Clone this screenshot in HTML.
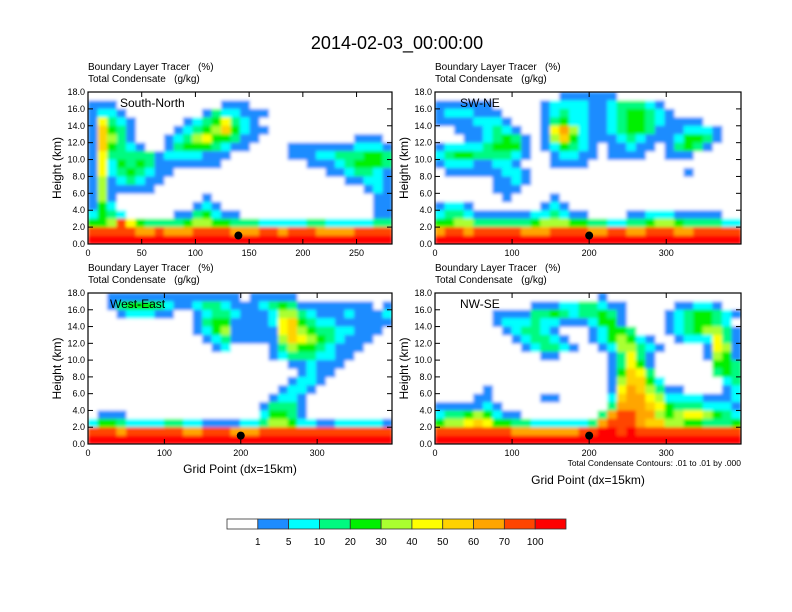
<!DOCTYPE html>
<html><head><meta charset="utf-8"><style>
body{margin:0;background:#fff;}
svg{display:block;font-family:"Liberation Sans",sans-serif;}
</style></head><body>
<svg id="fig" width="792" height="612" viewBox="0 0 792 612">
<defs><filter id="soft" x="0" y="0" width="1" height="1"><feGaussianBlur stdDeviation="1.6"/></filter></defs>
<text x="397" y="49" font-size="18" text-anchor="middle">2014-02-03_00:00:00</text>
</svg>
<script>
const levelColors=["#ffffff","#1e8cff","#00ffff","#00fa80","#00f000","#aaff30","#ffff00","#ffd200","#ffa500","#ff4500","#ff0000"];
const levelLabels=["1","5","10","20","30","40","50","60","70","100"];
const yTicks=[0,2,4,6,8,10,12,14,16,18];
const xTicksP1=[0,50,100,150,200,250];
const xTicksP234=[0,100,200,300];
const p1Rows=[
"00000000000000000000000000000000",
"11100000000000111000000000000000",
"12210000000013221110000000000000",
"16321000001234632100000000000000",
"17431000012345742110000000000000",
"17531000123564431100000000001110",
"17432100134443211000011111112221",
"16333331222211100000011122333443",
"16243431111111000000000111234443",
"16234321100000000000000001123321",
"15123211000000000000000000011221",
"15111110000000000000000000000121",
"15100000000010000000000000000011",
"14200000000121000000000000000011",
"24320000011342110000000000000011",
"44596433334554433322222332222233",
"99999889888999988899899988889999",
"aaaaaaaaaaaaaaaaaaaaaaaaaaaaaaaa"];
const p2Rows=[
"00000000000001111110000000000000",
"11111100000122221123332100000000",
"12221110000123221123443210000000",
"11112221000134221123443211110000",
"00111232100168521123443111222100",
"00011234310157421112321112443100",
"12222344410124321011211013431000",
"23443333210012211011110011100000",
"12221122100011110000000000000000",
"01111112210000000000000000100000",
"00000011210000000000000000000000",
"00000011100000000000000000000000",
"00000001000010000000000000000000",
"12210000000121000000000000000000",
"23321111112232110000112221111100",
"44553333334555443322334554333322",
"89989999988899998899889998899999",
"aaaaaaaaaaaaaaaaaaaaaaaaaaaaaaaa"];
const p3Rows=[
"00111111111111110111110000000000",
"00134443211233211123431111111101",
"00012221100123321112553211121112",
"00000000000134411112674322111111",
"00000000000124511111675433221110",
"00000000000012311111576543211100",
"00000000000001200001354432111000",
"00000000000000000001233322110000",
"00000000000000000000011211100000",
"00000000000000000000001211000000",
"00000000000000000000012210000000",
"00000000000000000000122100000000",
"00000000000000000001221000000000",
"00000000000000000013331000000000",
"01110000000000000024431000000000",
"24432222332211112235542211222221",
"99989999998899988899999999999999",
"aaaaaaaaaaaaaaaaaaaaaaaaaaaaaaaa"];
const p4Rows=[
"00000000000000000100000000000000",
"00000000001112233211000001122100",
"00000011113343233431000012344321",
"00000012223221112441000012344320",
"00000001233210001244300012345531",
"00000000123321001245421001222631",
"00000000012332100125532100001651",
"00000000000110000013631000001541",
"00000000000000000013641000000443",
"00000000000000000014763000000343",
"00000000000000000015774200000023",
"00000100000000000016875311000012",
"00001100000110000027886522221112",
"11111210000000000038887643332221",
"23345421100000000389988545665432",
"45567644332222223899987755443334",
"99999999888888899aa9a99999999999",
"aaaaaaaaaaaaaaaaaaaaaaaaaaaaaaaa"];
const panelNames=["South-North","SW-NE","West-East","NW-SE"];
const dotX=[140,200,200,200];
const dotZ=[1,1,1,1];

const NS="http://www.w3.org/2000/svg";
const svg=document.getElementById('fig');
function mk(tag,attrs,parent){const e=document.createElementNS(NS,tag);for(const k in attrs)e.setAttribute(k,attrs[k]);(parent||svg).appendChild(e);return e;}

const panels=[
 {x0:88,y0:92,w:304,h:152,xmax:283,rows:p1Rows,xt:xTicksP1},
 {x0:435,y0:92,w:306,h:152,xmax:397,rows:p2Rows,xt:xTicksP234},
 {x0:88,y0:293,w:304,h:151,xmax:398,rows:p3Rows,xt:xTicksP234},
 {x0:435,y0:293,w:306,h:151,xmax:397,rows:p4Rows,xt:xTicksP234}
];
panels.forEach((p,i)=>{
 const g=mk('g',{});
 
 
 const xs=v=>p.x0+v/p.xmax*p.w;
 const ys=v=>p.y0+p.h-v/18*p.h;
 const nr=p.rows.length,nc=p.rows[0].length;
 const cw=p.w/nc,ch=p.h/nr;
 const cells=mk('g',{filter:'url(#soft)'},g);
 
 
 mk('rect',{x:p.x0,y:p.y0,width:p.w,height:p.h,fill:'#fff'},cells);
 for(let r=0;r<nr;r++)for(let c=0;c<nc;c++){
  const lv=parseInt(p.rows[r][c],16)||0;
  if(lv===0)continue;
  const cell=mk('rect',{x:(p.x0+c*cw).toFixed(2),y:(p.y0+r*ch).toFixed(2),width:(cw+0.5).toFixed(2),height:(ch+0.5).toFixed(2),fill:levelColors[lv]},cells);
  
  
 }
 const dot=mk('circle',{cx:xs(dotX[i]),cy:ys(dotZ[i]),r:4,fill:'#000'},g);
 
 
 const fr=mk('rect',{x:p.x0,y:p.y0,width:p.w,height:p.h,fill:'none',stroke:'#000','stroke-width':1.2},g);
 
 
 yTicks.forEach(v=>{
  const y=ys(v);
  mk('line',{x1:p.x0,x2:p.x0+5,y1:y,y2:y,stroke:'#000'},g);
  mk('line',{x1:p.x0+p.w,x2:p.x0+p.w-5,y1:y,y2:y,stroke:'#000'},g);
  const t=mk('text',{x:p.x0-3,y:y+3,'font-size':9,'text-anchor':'end'},g);
  t.textContent=v.toFixed(1);
  
  
 });
 p.xt.forEach(v=>{
  const x=xs(v);
  mk('line',{x1:x,x2:x,y1:p.y0+p.h,y2:p.y0+p.h-5,stroke:'#000'},g);
  mk('line',{x1:x,x2:x,y1:p.y0,y2:p.y0+5,stroke:'#000'},g);
  const t=mk('text',{x:x,y:p.y0+p.h+12,'font-size':9,'text-anchor':'middle'},g);
  t.textContent=v;
  
  
 });
 const yt=mk('text',{x:0,y:0,'font-size':12,'text-anchor':'middle',transform:`translate(${p.x0-27},${p.y0+p.h/2}) rotate(-90)`},g);
 yt.textContent='Height (km)';
 
 
 const l1=mk('text',{x:p.x0,y:p.y0-22,'font-size':10},g);
 l1.textContent='Boundary Layer Tracer   (%)';
 l1.setAttribute('style','white-space:pre');
 
 
 const l2=mk('text',{x:p.x0,y:p.y0-10,'font-size':10},g);
 l2.textContent='Total Condensate   (g/kg)';
 l2.setAttribute('style','white-space:pre');
 
 
 const pn=mk('text',{x:p.x0+(i%2===0?32:25),y:p.y0+15,'font-size':12},g);
 if(i===2) pn.setAttribute('x',p.x0+22);
 pn.textContent=panelNames[i];
 
 
 if(i===2){
  const gx=mk('text',{x:p.x0+p.w/2,y:p.y0+p.h+29,'font-size':12,'text-anchor':'middle'},g);
  gx.textContent='Grid Point (dx=15km)';
  
  
 }
 if(i===3){
  const c=mk('text',{x:p.x0+p.w,y:p.y0+p.h+22,'font-size':8.5,'text-anchor':'end'},g);
  c.textContent='Total Condensate Contours: .01 to .01 by .000';
  
  
  const gx=mk('text',{x:p.x0+p.w/2,y:p.y0+p.h+40,'font-size':12,'text-anchor':'middle'},g);
  gx.textContent='Grid Point (dx=15km)';
  
  
 }
});
const cb=mk('g',{});


const cbx=227,cby=519,cbw=339,cbh=10,bw=cbw/levelColors.length;
levelColors.forEach((c,k)=>{
 const r=mk('rect',{x:cbx+k*bw,y:cby,width:bw,height:cbh,fill:c,stroke:'#333','stroke-width':0.8},cb);
 
 
});
levelLabels.forEach((s,k)=>{
 const t=mk('text',{x:cbx+(k+1)*bw,y:cby+26,'font-size':10,'text-anchor':'middle'},cb);
 t.textContent=s;
 
 
});
</script>
</body></html>
